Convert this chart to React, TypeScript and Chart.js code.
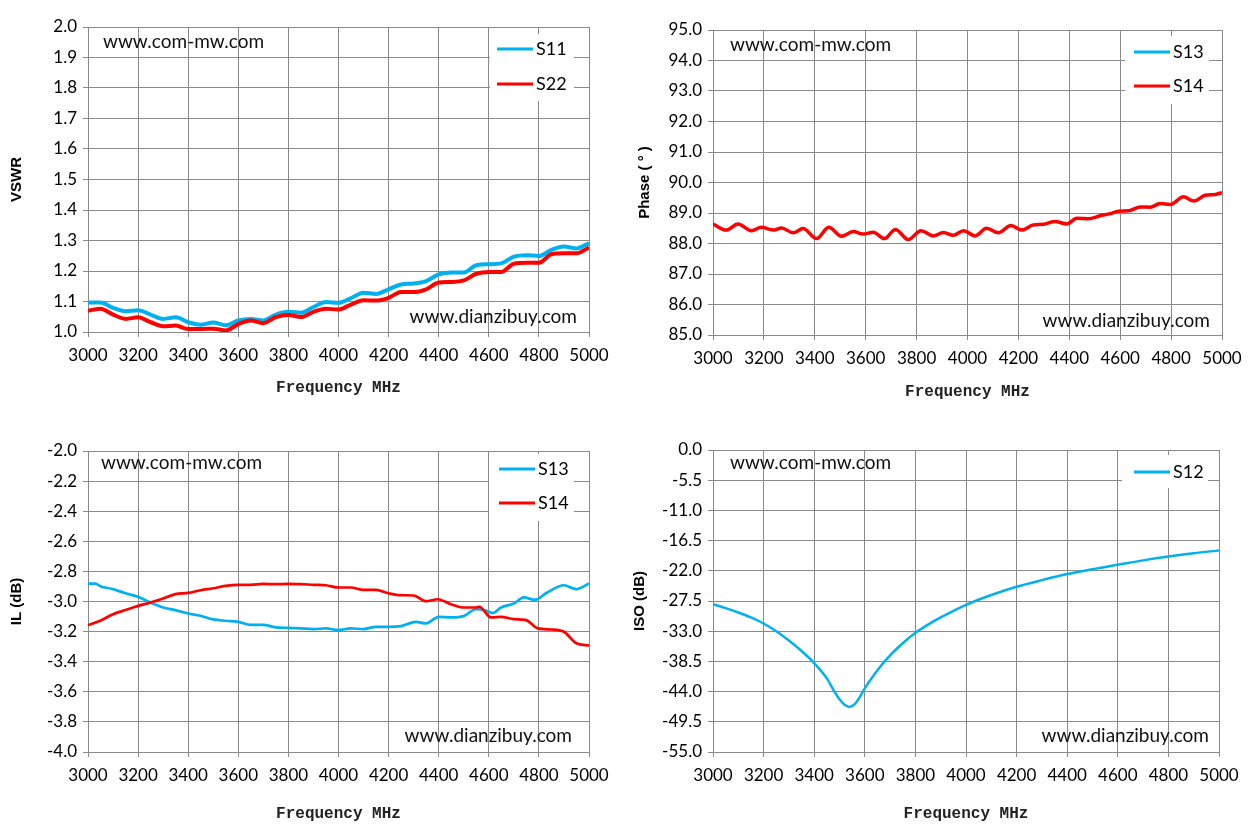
import { useEffect, useRef } from "react";
import { Chart, registerables } from "chart.js";
Chart.register(...registerables);

const BLUE = "#00B0F0";
const RED = "#FF0000";
const GRID = "#8a8a8a";
const TICK_FONT = { family: "Lato, 'Open Sans', sans-serif", size: 17 };
const MARK_FONT = "19px Lato, 'Open Sans', sans-serif";
const LEGEND_FONT = "18px Lato, 'Open Sans', sans-serif";

// --- VSWR (top left), read every 50 MHz
const vswrFreq = [
  3000, 3050, 3100, 3150, 3200, 3250, 3300, 3350, 3400, 3450, 3500, 3550, 3600, 3650, 3700, 3750, 3800,
  3850, 3900, 3950, 4000, 4050, 4100, 4150, 4200, 4250, 4300, 4350, 4400, 4450, 4500, 4550, 4600, 4650,
  4700, 4750, 4800, 4850, 4900, 4950, 5000,
];
const vswrS11 = [
  1.097, 1.097, 1.079, 1.068, 1.071, 1.057, 1.043, 1.048, 1.032, 1.024, 1.031, 1.022, 1.038, 1.043, 1.038,
  1.057, 1.066, 1.063, 1.082, 1.098, 1.096, 1.111, 1.129, 1.125, 1.14, 1.156, 1.159, 1.167, 1.189, 1.195,
  1.195, 1.219, 1.222, 1.225, 1.247, 1.252, 1.249, 1.269, 1.28, 1.274, 1.291,
];
const vswrS22 = [
  1.07, 1.076, 1.057, 1.043, 1.048, 1.032, 1.019, 1.021, 1.01, 1.01, 1.011, 1.005, 1.026, 1.038, 1.029,
  1.049, 1.056, 1.049, 1.066, 1.076, 1.074, 1.09, 1.104, 1.103, 1.112, 1.131, 1.131, 1.14, 1.162, 1.164,
  1.169, 1.191, 1.197, 1.197, 1.224, 1.227, 1.227, 1.255, 1.258, 1.258, 1.277,
];

// --- Phase (top right), peaks and troughs of the ripple
const phaseFreq = [
  3000, 3052, 3098, 3151, 3190, 3236, 3269, 3315, 3354, 3407, 3455, 3505, 3551, 3590, 3630, 3673, 3717,
  3767, 3817, 3866, 3905, 3944, 3984, 4030, 4075, 4121, 4171, 4213, 4259, 4298, 4344, 4390, 4430, 4475,
  4521, 4561, 4593, 4633, 4679, 4718, 4757, 4797, 4849, 4889, 4934, 4974, 5000,
];
const phaseS14 = [
  88.64, 88.44, 88.64, 88.42, 88.53, 88.44, 88.51, 88.35, 88.49, 88.16, 88.53, 88.24, 88.39, 88.31, 88.37,
  88.16, 88.46, 88.13, 88.42, 88.25, 88.36, 88.27, 88.42, 88.25, 88.5, 88.35, 88.59, 88.44, 88.61, 88.63,
  88.72, 88.64, 88.83, 88.81, 88.91, 88.98, 89.06, 89.07, 89.2, 89.19, 89.31, 89.28, 89.53, 89.39, 89.58,
  89.61, 89.67,
];
// S13 phase is in the legend only, no trace is visible
const phaseS13: number[] = [];

// --- Insertion loss (bottom left)
const ilFreqS13 = [
  3000, 3029, 3049, 3100, 3149, 3200, 3249, 3300, 3349, 3400, 3449, 3500, 3549, 3600, 3649, 3700, 3749,
  3800, 3849, 3900, 3949, 4000, 4049, 4100, 4149, 4200, 4249, 4309, 4349, 4400, 4449, 4500, 4549, 4582,
  4616, 4649, 4700, 4740, 4783, 4833, 4900, 4949, 5000,
];
const ilS13 = [
  -2.881, -2.881, -2.898, -2.918, -2.945, -2.969, -3.007, -3.04, -3.057, -3.08, -3.095, -3.119, -3.128,
  -3.135, -3.155, -3.155, -3.172, -3.175, -3.179, -3.183, -3.179, -3.19, -3.179, -3.183, -3.168, -3.168,
  -3.164, -3.135, -3.146, -3.102, -3.106, -3.097, -3.051, -3.057, -3.077, -3.04, -3.013, -2.973, -2.989,
  -2.94, -2.892, -2.918, -2.881,
];
const ilFreqS14 = [
  3000, 3049, 3100, 3149, 3200, 3249, 3300, 3349, 3400, 3449, 3500, 3549, 3600, 3649, 3700, 3749, 3800,
  3849, 3900, 3949, 4000, 4049, 4100, 4149, 4200, 4249, 4300, 4349, 4396, 4449, 4500, 4549, 4562, 4609,
  4649, 4700, 4749, 4796, 4849, 4900, 4949, 5000,
];
const ilS14 = [
  -3.157, -3.128, -3.084, -3.057, -3.029, -3.007, -2.98, -2.951, -2.943, -2.925, -2.912, -2.896, -2.889,
  -2.889, -2.883, -2.885, -2.883, -2.885, -2.889, -2.892, -2.907, -2.907, -2.923, -2.923, -2.945, -2.958,
  -2.96, -2.998, -2.985, -3.018, -3.04, -3.04, -3.035, -3.106, -3.102, -3.117, -3.124, -3.179, -3.186,
  -3.201, -3.278, -3.292,
];

// --- Isolation (bottom right)
const isoFreq = [
  3000, 3050, 3100, 3150, 3200, 3250, 3300, 3350, 3400, 3450, 3480, 3500, 3520, 3540, 3560, 3580, 3600,
  3650, 3700, 3750, 3800, 3850, 3900, 4000, 4100, 4200, 4300, 4400, 4500, 4600, 4700, 4800, 4900, 5000,
];
const isoS12 = [
  -28.1, -28.8, -29.6, -30.5, -31.6, -33.0, -34.7, -36.6, -38.8, -41.6, -44.0, -45.4, -46.4, -46.8, -46.3,
  -45.0, -43.4, -40.1, -37.4, -35.2, -33.3, -31.8, -30.5, -28.2, -26.4, -24.9, -23.7, -22.6, -21.7, -20.9,
  -20.1, -19.4, -18.8, -18.3,
];

const freqRange = { min: 3000, max: 5000, step: 200 };
const topMark = "www.com-mw.com";
const bottomMark = "www.dianzibuy.com";

interface Series {
  label: string;
  color: string;
  freq: number[];
  values: number[];
}

interface PanelDef {
  left: number;
  top: number;
  width: number;
  height: number;
  plot: { left: number; top: number; right: number; bottom: number };
  y: { min: number; max: number; step: number; title: string; titleX: number };
  xTitleOffset: number;
  lineWidth: number;
  series: Series[];
  legend: { x: number; y: number; gap: number; box: [number, number, number, number] };
  marks: { top: [number, number]; bottom: [number, number] };
}

const panels: PanelDef[] = [
  {
    left: 0, top: 0, width: 630, height: 418,
    plot: { left: 88, top: 27, right: 589, bottom: 332 },
    y: { min: 1.0, max: 2.0, step: 0.1, title: "VSWR", titleX: 17 },
    xTitleOffset: 30,
    lineWidth: 4,
    series: [
      { label: "S11", color: BLUE, freq: vswrFreq, values: vswrS11 },
      { label: "S22", color: RED, freq: vswrFreq, values: vswrS22 },
    ],
    legend: { x: 497, y: 49, gap: 35, box: [490, 34, 84, 67] },
    marks: { top: [103, 42], bottom: [577, 317] },
  },
  {
    left: 630, top: 0, width: 629, height: 418,
    plot: { left: 83, top: 30, right: 592, bottom: 335 },
    y: { min: 85, max: 95, step: 1, title: "Phase ( ° )", titleX: 15 },
    xTitleOffset: 26,
    lineWidth: 3.5,
    series: [
      { label: "S13", color: BLUE, freq: phaseFreq, values: phaseS13 },
      { label: "S14", color: RED, freq: phaseFreq, values: phaseS14 },
    ],
    legend: { x: 504, y: 52, gap: 34, box: [495, 36, 84, 68] },
    marks: { top: [100, 45], bottom: [580, 321] },
  },
  {
    left: 0, top: 418, width: 630, height: 419,
    plot: { left: 88, top: 33, right: 589, bottom: 334 },
    y: { min: -4.0, max: -2.0, step: 0.2, title: "IL (dB)", titleX: 17 },
    xTitleOffset: 23,
    lineWidth: 2.7,
    series: [
      { label: "S13", color: BLUE, freq: ilFreqS13, values: ilS13 },
      { label: "S14", color: RED, freq: ilFreqS14, values: ilS14 },
    ],
    legend: { x: 499, y: 51, gap: 34, box: [489, 36, 85, 67] },
    marks: { top: [101, 45], bottom: [572, 318] },
  },
  {
    left: 630, top: 418, width: 629, height: 419,
    plot: { left: 83, top: 32, right: 589, bottom: 334 },
    y: { min: -55, max: 0, step: 5.5, title: "ISO (dB)", titleX: 10 },
    xTitleOffset: 23,
    lineWidth: 2.5,
    series: [{ label: "S12", color: BLUE, freq: isoFreq, values: isoS12 }],
    legend: { x: 504, y: 54, gap: 34, box: [492, 37, 86, 33] },
    marks: { top: [100, 45], bottom: [579, 318] },
  },
];

const decorPlugin = {
  id: "decor",
  afterDatasetsDraw(chart: any, _args: any, opts: any) {
    const ctx = chart.ctx as CanvasRenderingContext2D;
    const { legend, marks } = opts;
    ctx.save();
    ctx.fillStyle = "#fff";
    ctx.fillRect(legend.box[0], legend.box[1], legend.box[2], legend.box[3]);
    ctx.textBaseline = "middle";
    chart.data.datasets.forEach((ds: any, i: number) => {
      const y = legend.y + i * legend.gap;
      ctx.strokeStyle = ds.borderColor;
      ctx.lineWidth = 3;
      ctx.beginPath();
      ctx.moveTo(legend.x, y);
      ctx.lineTo(legend.x + 36, y);
      ctx.stroke();
      ctx.fillStyle = "#000";
      ctx.font = LEGEND_FONT;
      ctx.textAlign = "left";
      ctx.fillText(ds.label, legend.x + 39, y);
    });
    ctx.fillStyle = "#111";
    ctx.font = MARK_FONT;
    ctx.textAlign = "left";
    ctx.fillText(topMark, marks.top[0], marks.top[1]);
    ctx.textAlign = "right";
    ctx.fillText(bottomMark, marks.bottom[0], marks.bottom[1]);
    ctx.restore();
  },
};

const Panel = ({ def }: { def: PanelDef }) => {
  const canvasRef = useRef<HTMLCanvasElement>(null);
  const chartRef = useRef<Chart | null>(null);

  useEffect(() => {
    if (!canvasRef.current) return;
    if (chartRef.current) chartRef.current.destroy();
    const xH = def.height - def.plot.bottom;

    chartRef.current = new Chart(canvasRef.current, {
      type: "line",
      data: {
        datasets: def.series.map((s) => ({
          label: s.label,
          data: s.freq.map((f, i) => ({ x: f, y: s.values[i] })),
          borderColor: s.color,
          backgroundColor: s.color,
          borderWidth: def.lineWidth,
          pointRadius: 0,
          cubicInterpolationMode: "monotone" as const,
          order: s.color === RED ? 0 : 1,
        })),
      },
      options: {
        animation: false,
        responsive: false,
        events: [],
        layout: {
          padding: { top: def.plot.top, right: def.width - def.plot.right, left: 0, bottom: 0 },
        },
        plugins: {
          legend: { display: false },
          tooltip: { enabled: false },
          // @ts-ignore custom plugin options
          decor: { legend: def.legend, marks: def.marks },
        },
        scales: {
          x: {
            type: "linear",
            min: freqRange.min,
            max: freqRange.max,
            afterFit: (scale: any) => {
              scale.height = xH;
            },
            ticks: {
              stepSize: freqRange.step,
              color: "#000",
              font: TICK_FONT,
              padding: 8,
              maxRotation: 0,
              autoSkip: false,
              callback: (v: any) => String(v),
            },
            grid: { color: GRID, lineWidth: 1, tickLength: 5 },
            border: { color: GRID },
            title: {
              display: true,
              text: "Frequency MHz",
              color: "#222",
              font: { family: "'Liberation Mono', 'DejaVu Sans Mono', monospace", size: 16, weight: "bold" },
              padding: { top: 0, bottom: def.xTitleOffset - 9.6 },
            },
          },
          y: {
            type: "linear",
            min: def.y.min,
            max: def.y.max,
            afterFit: (scale: any) => {
              scale.width = def.plot.left;
            },
            ticks: {
              stepSize: def.y.step,
              color: "#000",
              font: TICK_FONT,
              padding: 6,
              autoSkip: false,
              callback: (v: any) => Number(v).toFixed(1),
            },
            grid: { color: GRID, lineWidth: 1, tickLength: 5 },
            border: { color: GRID },
            title: {
              display: true,
              text: def.y.title,
              color: "#000",
              font: { family: "'Liberation Sans', Arial, sans-serif", size: 15, weight: "bold" },
              padding: { top: def.y.titleX - 9, bottom: 0 },
            },
          },
        },
      },
      plugins: [decorPlugin],
    });

    return () => {
      chartRef.current?.destroy();
      chartRef.current = null;
    };
  }, [def]);

  return (
    <canvas
      ref={canvasRef}
      width={def.width}
      height={def.height}
      style={{ position: "absolute", left: def.left, top: def.top, width: def.width, height: def.height }}
    />
  );
};

export default function App() {
  return (
    <div style={{ position: "absolute", left: 0, top: 0, width: 1259, height: 837, background: "#fff" }}>
      {panels.map((p, i) => (
        <Panel key={i} def={p} />
      ))}
    </div>
  );
}
